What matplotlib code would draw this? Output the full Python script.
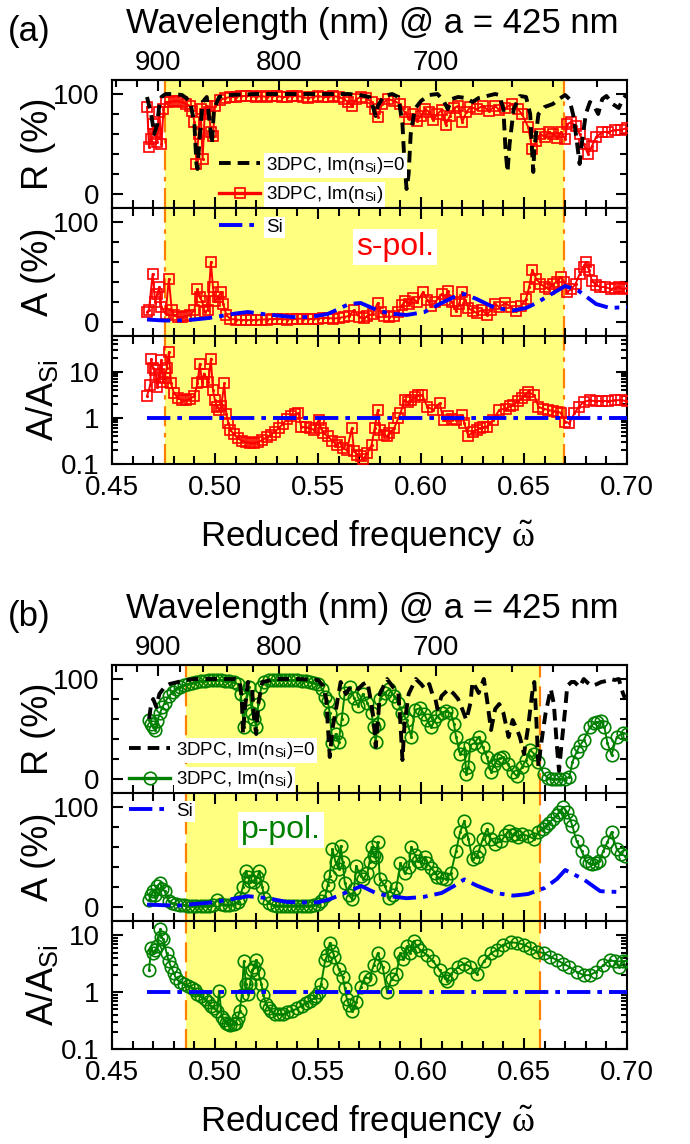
import matplotlib
matplotlib.use('Agg')
import matplotlib.pyplot as plt
from matplotlib.ticker import MultipleLocator, FixedLocator, NullFormatter, LogLocator
from matplotlib.lines import Line2D

plt.rcParams['font.family'] = ['Liberation Sans', 'DejaVu Sans']
plt.rcParams['mathtext.fontset'] = 'custom'
plt.rcParams['mathtext.rm'] = 'Liberation Sans'
plt.rcParams['mathtext.it'] = 'Liberation Serif'

# ---------------- data (reduced frequency, value) ----------------
# (a) s-pol
ra_black = [(0.467,97),(0.469,80),(0.4705,60),(0.472,70),(0.473,90),(0.474,97),(0.476,100),(0.480,100),
            (0.484,99),(0.486,96),(0.488,92),(0.490,70),(0.491,30),(0.4915,25),(0.4925,55),(0.494,92),
            (0.496,97),(0.4975,70),(0.4985,50),(0.4995,85),(0.502,97),(0.506,99),(0.520,100),(0.540,100),
            (0.560,100),(0.565,100),(0.570,99),(0.575,97),(0.577,85),(0.578,78),(0.579,88),(0.582,98),
            (0.586,100),(0.589,97),(0.591,70),(0.592,30),(0.593,5),(0.594,20),(0.595,60),(0.597,85),
            (0.600,93),(0.604,99),(0.608,100),(0.611,93),(0.613,85),(0.615,95),(0.618,97),(0.622,96),
            (0.625,92),(0.628,96),(0.632,98),(0.636,100),(0.638,99),(0.640,85),(0.641,45),(0.642,22),
            (0.643,50),(0.645,85),(0.648,98),(0.651,97),(0.653,80),(0.654,40),(0.6545,22),(0.655,45),
            (0.657,80),(0.660,87),(0.664,90),(0.667,95),(0.670,99),(0.672,95),(0.674,78),(0.6755,55),
            (0.677,30),(0.678,50),(0.680,80),(0.682,92),(0.684,88),(0.686,80),(0.688,95),(0.690,98),
            (0.693,90),(0.696,86),(0.698,95),(0.700,100)]

ra_red = [(0.467,87),(0.468,47),(0.469,55),(0.470,70),(0.471,60),(0.472,52),(0.473,82),(0.474,50),(0.475,85),
          (0.476,92),(0.478,92),(0.480,93),(0.482,93),(0.484,92),(0.486,90),(0.488,88),(0.489,83),(0.490,72),
          (0.491,30),(0.492,60),(0.493,85),(0.494,35),(0.495,80),(0.496,88),(0.497,82),(0.498,62),(0.499,58),
          (0.500,88),(0.5025,94),(0.505,96),(0.5075,97),(0.510,97),(0.5125,98),(0.515,98),(0.5175,98),
          (0.520,97),(0.5225,98),(0.525,97),(0.5275,98),(0.530,98),(0.5325,97),(0.535,97),(0.5375,98),
          (0.540,98),(0.5425,97),(0.545,96),(0.5475,97),(0.550,98),(0.5525,97),(0.555,97),(0.5575,98),
          (0.560,97),(0.5625,95),(0.5645,92),(0.5665,88),(0.5685,95),(0.571,97),(0.5735,96),(0.576,92),
          (0.5775,85),(0.579,77),(0.581,90),(0.584,95),(0.587,93),(0.590,90),(0.592,82),(0.594,75),
          (0.596,80),(0.598,73),(0.600,78),(0.602,85),(0.604,82),(0.606,74),(0.608,80),(0.610,84),
          (0.612,69),(0.614,78),(0.616,86),(0.618,88),(0.620,72),(0.622,82),(0.624,87),(0.627,85),
          (0.630,88),(0.633,83),(0.636,88),(0.638,84),(0.641,86),(0.644,90),(0.647,85),(0.649,80),
          (0.652,67),(0.654,45),(0.656,53),(0.658,60),(0.660,57),(0.662,62),(0.664,60),(0.666,56),
          (0.668,62),(0.670,55),(0.671,70),(0.673,72),(0.675,68),(0.677,60),(0.679,50),(0.681,40),
          (0.683,48),(0.685,57),(0.688,62),(0.691,62),(0.694,64),(0.697,64),(0.700,66)]

aa_red = [(0.467,10),(0.468,12.5),(0.4697,48),(0.471,20),(0.472,28),(0.473,35),(0.474,15),(0.476,8),
          (0.4776,43),(0.479,12),(0.480,7),(0.482,5),(0.484,5),(0.486,6),(0.488,7),(0.490,12),(0.4915,33),
          (0.4925,25),(0.4937,21),(0.495,10),(0.4965,12),(0.498,60),(0.499,35),(0.500,21),(0.5015,25),
          (0.503,30),(0.504,18),(0.5055,7),(0.5075,3),(0.510,2.5),(0.5125,2),(0.515,2),(0.5175,2),
          (0.520,2),(0.5225,2.5),(0.525,2.5),(0.5275,3),(0.530,3),(0.5325,3),(0.535,2.5),(0.5375,3),
          (0.540,3),(0.5425,3.5),(0.545,3),(0.5475,3),(0.550,3.5),(0.5525,4),(0.555,4),(0.5575,3.5),
          (0.560,4),(0.5625,5),(0.565,6),(0.5675,12),(0.570,5),(0.5725,4),(0.574,6),(0.5765,8),
          (0.579,19),(0.5805,10),(0.582,6),(0.5845,5),(0.587,6),(0.589,10),(0.591,17),(0.592,21),
          (0.594,18),(0.596,24),(0.598,20),(0.601,30),(0.603,22),(0.605,16),(0.607,20),(0.610,28),
          (0.6115,22),(0.613,31),(0.615,20),(0.617,11),(0.6185,18),(0.620,30),(0.6215,22),(0.623,14),
          (0.625,11),(0.627,9),(0.6295,12),(0.632,7.5),(0.634,12),(0.636,18),(0.638,15),(0.641,19),
          (0.6435,15),(0.646,11),(0.6485,16),(0.651,23),(0.6525,35),(0.654,52),(0.656,43),(0.658,38),
          (0.660,35),(0.662,33),(0.664,38),(0.666,40),(0.668,45),(0.6695,40),(0.671,30),(0.673,33),
          (0.675,38),(0.677,48),(0.679,55),(0.680,60),(0.6815,52),(0.683,41),(0.685,37),(0.687,35),
          (0.6895,35),(0.692,33),(0.694,34),(0.696,35),(0.698,33),(0.700,34)]

aa_si = [(0.467,2.5),(0.475,1.5),(0.482,1.4),(0.490,2.5),(0.497,4),(0.503,6),(0.510,8.5),(0.516,10),
         (0.525,7.5),(0.5375,5),(0.546,5),(0.5547,8),(0.560,13),(0.565,18),(0.5707,19),(0.578,12.5),
         (0.5846,8.5),(0.593,7),(0.6017,10),(0.610,19),(0.616,25),(0.621,28),(0.627,23),(0.636,14),
         (0.6446,11.5),(0.651,14),(0.656,19),(0.6617,26),(0.670,36),(0.6766,31),(0.685,18),(0.6917,14),
         (0.700,15)]

qa_red = [(0.467,3.0),(0.4686,5.2),(0.469,19),(0.470,12),(0.471,10.9),(0.472,4.7),(0.473,9),(0.4738,17.8),
          (0.4748,6),(0.4755,7.2),(0.4766,12),(0.4776,27),(0.4787,5.6),(0.480,3.5),(0.482,2.7),(0.484,2.4),
          (0.486,2.4),(0.488,2.6),(0.490,3.0),(0.4915,5.6),(0.4926,15),(0.4937,6),(0.4947,9.2),(0.4968,6.1),
          (0.498,19.4),(0.499,4),(0.500,2.4),(0.501,1.75),(0.502,1.5),(0.503,1.8),(0.5045,5.6),(0.5055,1.2),
          (0.5065,0.77),(0.5075,0.55),(0.509,0.45),(0.511,0.36),(0.513,0.32),(0.515,0.3),(0.517,0.29),
          (0.519,0.29),(0.521,0.3),(0.523,0.33),(0.525,0.38),(0.527,0.43),(0.529,0.5),(0.531,0.6),
          (0.533,0.75),(0.535,0.95),(0.537,1.1),(0.539,1.2),(0.5405,1.26),(0.5418,0.65),(0.544,0.62),
          (0.546,0.6),(0.548,0.55),(0.5503,0.9),(0.5515,0.6),(0.5525,0.47),(0.5547,0.4),(0.557,0.32),
          (0.559,0.26),(0.5605,0.3),(0.562,0.22),(0.564,0.2),(0.5664,0.6),(0.5675,0.19),(0.569,0.16),
          (0.5707,0.15),(0.572,0.13),(0.574,0.17),(0.576,0.26),(0.5775,0.6),(0.579,1.5),(0.580,0.55),
          (0.582,0.43),(0.5835,0.4),(0.5846,0.47),(0.587,0.6),(0.589,1.0),(0.590,1.26),(0.592,2.45),
          (0.5935,2.2),(0.595,2.45),(0.597,2.8),(0.5985,3.1),(0.6007,3.1),(0.603,1.75),(0.606,1.5),
          (0.609,2.07),(0.611,0.9),(0.613,1.1),(0.615,0.95),(0.617,0.9),(0.620,1.16),(0.621,0.77),
          (0.623,0.4),(0.625,0.5),(0.627,0.55),(0.6285,0.6),(0.630,0.62),(0.632,0.65),(0.635,0.9),
          (0.638,1.5),(0.6414,1.6),(0.643,1.8),(0.6446,1.9),(0.647,2.3),(0.649,2.65),(0.6505,3.2),
          (0.652,3.7),(0.655,3.1),(0.657,1.75),(0.659,1.6),(0.6617,1.5),(0.664,1.4),(0.666,1.37),
          (0.668,1.3),(0.670,0.83),(0.672,0.77),(0.6745,1.26),(0.6766,1.75),(0.679,2.25),(0.682,2.4),
          (0.685,2.3),(0.688,2.35),(0.691,2.3),(0.694,2.4),(0.697,2.45),(0.700,2.3)]

# (b) p-pol
rb_black = [(0.468,60),(0.469,75),(0.470,80),(0.4715,72),(0.473,85),(0.4755,92),(0.478,95),(0.482,97),
            (0.486,99),(0.490,100),(0.500,100),(0.510,100),(0.512,98),(0.513,80),(0.5136,45),(0.5145,70),
            (0.516,97),(0.518,90),(0.519,60),(0.520,45),(0.521,75),(0.523,97),(0.530,100),(0.540,100),
            (0.550,99),(0.5525,93),(0.554,80),(0.5557,22),(0.557,50),(0.559,73),(0.561,97),(0.5635,85),
            (0.566,93),(0.5695,90),(0.572,95),(0.574,97),(0.5755,80),(0.577,60),(0.578,32),(0.579,55),
            (0.580,85),(0.5835,100),(0.586,93),(0.589,86),(0.590,56),(0.591,19),(0.592,55),(0.594,85),
            (0.5975,100),(0.600,95),(0.602,90),(0.604,95),(0.6055,85),(0.607,80),(0.608,70),(0.610,83),
            (0.6135,90),(0.616,85),(0.618,80),(0.620,70),(0.622,59),(0.624,76),(0.625,97),(0.627,90),
            (0.628,86),(0.6305,100),(0.632,80),(0.634,49),(0.636,70),(0.638,75),(0.640,66),(0.6425,42),
            (0.6445,59),(0.6465,50),(0.648,42),(0.650,25),(0.652,52),(0.654,86),(0.655,97),(0.656,59),
            (0.657,12),(0.658,30),(0.659,45),(0.6605,66),(0.663,90),(0.6645,75),(0.666,32),(0.667,8),
            (0.668,30),(0.670,70),(0.671,93),(0.673,97),(0.6745,97),(0.677,92),(0.679,100),(0.681,96),
            (0.683,93),(0.6855,95),(0.6875,97),(0.690,98),(0.692,100),(0.694,99),(0.696,100),(0.698,86),
            (0.699,81)]

rb_green = [(0.468,59),(0.469,55),(0.470,52),(0.471,49),(0.472,58),(0.4733,66),(0.4745,72),(0.4755,76),
            (0.4776,83),(0.4795,87),(0.481,90),(0.483,92),(0.485,94),(0.487,95),(0.489,96),(0.491,97),
            (0.493,98),(0.495,98),(0.497,99),(0.499,99),(0.501,99),(0.503,99),(0.505,98),(0.507,98),
            (0.509,97),(0.511,95),(0.5125,85),(0.514,52),(0.515,80),(0.5165,92),(0.518,66),(0.519,60),
            (0.520,52),(0.521,75),(0.5225,92),(0.524,97),(0.526,99),(0.528,99),(0.530,99),(0.532,99),
            (0.534,99),(0.536,99),(0.538,99),(0.540,99),(0.542,98),(0.544,98),(0.546,97),(0.548,96),
            (0.550,95),(0.552,90),(0.5535,82),(0.5547,78),(0.5557,66),(0.557,36),(0.5585,45),(0.560,37),
            (0.5615,60),(0.563,86),(0.5655,92),(0.5675,81),(0.5695,73),(0.5718,85),(0.574,76),(0.576,66),
            (0.577,52),(0.578,37),(0.579,55),(0.580,80),(0.5825,86),(0.5846,90),(0.587,83),(0.589,76),
            (0.591,66),(0.593,59),(0.5953,42),(0.597,69),(0.5996,71),(0.6015,65),(0.603,59),(0.605,52),
            (0.6065,58),(0.608,63),(0.610,66),(0.612,68),(0.6145,66),(0.616,55),(0.617,42),(0.619,25),
            (0.621,31),(0.622,5),(0.623,12),(0.624,34),(0.626,36),(0.628,42),(0.630,32),(0.632,22),
            (0.634,7),(0.6355,14),(0.637,19),(0.6385,21),(0.640,22),(0.642,15),(0.6445,7),(0.6465,3),
            (0.649,12),(0.651,19),(0.653,29),(0.655,25),(0.657,17),(0.6595,5),(0.6617,1),(0.6637,0.5),
            (0.6657,0),(0.6677,0),(0.6697,0.5),(0.672,2),(0.6735,17),(0.6755,27),(0.677,33),(0.679,39),
            (0.682,52),(0.684,56),(0.6855,57),(0.6875,58),(0.689,52),(0.6905,36),(0.6925,24),(0.695,42),
            (0.698,46),(0.700,45)]

ab_green = [(0.468,7),(0.469,12),(0.470,16),(0.471,12),(0.472,21),(0.4733,24),(0.4745,18),(0.4755,16),
            (0.4776,6),(0.479,4),(0.481,3),(0.483,2),(0.485,2),(0.487,1.5),(0.489,1.5),(0.491,1.5),
            (0.493,1.5),(0.495,1.5),(0.497,1.5),(0.499,2),(0.5011,7),(0.503,3),(0.505,2.5),(0.507,2.5),
            (0.509,3),(0.511,5),(0.512,9),(0.5135,20),(0.515,36),(0.516,30),(0.517,26),(0.519,25),
            (0.5205,30),(0.5215,36),(0.523,20),(0.524,9),(0.526,4),(0.528,2),(0.530,1.5),(0.532,1.5),
            (0.534,1.5),(0.536,1.5),(0.538,1.5),(0.540,1.5),(0.542,1.5),(0.544,1.5),(0.546,1.5),(0.548,2),
            (0.550,3),(0.5515,6),(0.5535,11),(0.5547,22),(0.5557,31),(0.557,58),(0.5585,45),(0.560,38),
            (0.561,61),(0.562,45),(0.563,24),(0.565,12),(0.5665,8),(0.5675,18),(0.5685,41),(0.5707,31),
            (0.572,28),(0.574,34),(0.575,45),(0.576,60),(0.577,52),(0.578,50),(0.579,65),(0.580,28),
            (0.5825,21),(0.5846,9),(0.5865,12),(0.588,19),(0.590,44),(0.592,34),(0.594,40),(0.5953,60),
            (0.597,52),(0.5985,46),(0.600,44),(0.6017,50),(0.603,44),(0.605,39),(0.607,34),(0.608,30),
            (0.610,29),(0.612,28),(0.6145,34),(0.617,56),(0.619,75),(0.621,86),(0.623,68),(0.625,48),
            (0.627,50),(0.628,56),(0.630,68),(0.632,78),(0.634,68),(0.636,63),(0.639,66),(0.641,72),
            (0.6425,76),(0.644,72),(0.6455,73),(0.647,70),(0.649,73),(0.652,71),(0.655,68),(0.657,75),
            (0.659,78),(0.6605,81),(0.662,84),(0.664,88),(0.666,92),(0.667,95),(0.669,100),(0.671,95),
            (0.6725,87),(0.6735,81),(0.6755,66),(0.678,56),(0.680,46),(0.6815,44),(0.683,43),(0.685,44),
            (0.6865,46),(0.6885,56),(0.6905,65),(0.6925,75),(0.695,58),(0.697,53),(0.699,51)]

ab_si = [(0.467,2.4),(0.475,1.8),(0.482,1.4),(0.490,3),(0.499,4.7),(0.507,7.5),(0.516,10.8),(0.525,9),
         (0.535,5),(0.545,4.5),(0.550,4.7),(0.556,8),(0.563,14),(0.571,21),(0.578,14),(0.5846,10.8),
         (0.593,8.8),(0.601,10),(0.610,14),(0.616,21),(0.621,27.6),(0.627,21.5),(0.636,14),(0.645,11.4),
         (0.652,13),(0.660,19),(0.666,28),(0.670,37),(0.679,27.6),(0.687,15.8),(0.698,14.8)]

qb_green = [(0.468,2.45),(0.469,6),(0.470,4.9),(0.471,5.5),(0.472,6.4),(0.4733,12.8),(0.474,9.5),(0.475,8.5),
            (0.4765,4.9),(0.4775,3.5),(0.4787,2.8),(0.480,2.2),(0.481,1.75),(0.483,1.5),(0.485,1.4),
            (0.487,1.3),(0.489,1.2),(0.4905,1.1),(0.4915,0.93),(0.493,0.87),(0.495,0.76),(0.4965,0.68),
            (0.498,0.58),(0.4995,0.52),(0.501,0.47),(0.502,1.05),(0.5033,0.36),(0.5045,0.32),(0.5055,0.29),
            (0.5065,0.28),(0.5075,0.27),(0.509,0.28),(0.510,0.29),(0.511,0.35),(0.512,0.47),(0.513,0.9),
            (0.514,3.5),(0.515,1.4),(0.516,0.95),(0.517,1.4),(0.518,2.45),(0.519,2.8),(0.520,3.7),
            (0.521,2.2),(0.5225,1.4),(0.5235,0.9),(0.5247,0.62),(0.526,0.52),(0.527,0.47),(0.529,0.42),
            (0.531,0.41),(0.533,0.41),(0.535,0.44),(0.5375,0.47),(0.540,0.52),(0.542,0.58),(0.544,0.64),
            (0.546,0.71),(0.548,0.78),(0.549,0.87),(0.5505,1.0),(0.5515,1.4),(0.5535,3.7),(0.5545,4.5),
            (0.5557,7.4),(0.557,5.4),(0.558,4.2),(0.560,2.6),(0.562,1.86),(0.563,1.2),(0.564,0.76),
            (0.565,0.6),(0.5664,0.47),(0.5685,0.66),(0.5707,1.23),(0.5728,1.86),(0.575,1.74),(0.577,3.0),
            (0.579,4.9),(0.5814,2.8),(0.5835,1.0),(0.5857,1.74),(0.588,2.1),(0.590,4.9),(0.5915,3.8),
            (0.593,6.4),(0.5945,5),(0.5964,7.9),(0.598,6.5),(0.5996,5.6),(0.603,4.5),(0.606,3.5),
            (0.609,2.45),(0.6115,1.8),(0.6125,1.6),(0.6145,2.1),(0.618,2.8),(0.621,3.2),(0.624,2.8),
            (0.627,2.1),(0.6305,3.5),(0.634,4.9),(0.637,5.6),(0.640,6.9),(0.6435,7.6),(0.6466,7.4),
            (0.650,6.9),(0.653,6.0),(0.6563,5.2),(0.6595,4.9),(0.6627,4.25),(0.666,3.7),(0.669,3.2),
            (0.672,2.8),(0.6755,2.3),(0.679,2.0),(0.682,2.0),(0.685,2.3),(0.6885,3.0),(0.6917,3.7),
            (0.694,3.5),(0.696,2.8),(0.698,3.5),(0.700,3.6)]

si_ratio = [(0.467,1.0),(0.700,1.0)]

band_a = (0.4755, 0.6695)
band_b = (0.486, 0.6577)
wl_major = [900, 800, 700]
wl_minor = [940, 920, 880, 860, 840, 820, 780, 760, 740, 720, 680, 660, 640, 620]
lattice = 425.0

# ---------------- figure ----------------
W, H = 690, 1144
fig = plt.figure(figsize=(W/100, H/100), dpi=100)
LEFT, WIDTH, PANEL = 112, 515, 128

YELLOW = '#FFFF80'
ORANGE = '#FF8000'
BLUE = '#0000FF'


def fx(px):
    return px / W


def fy(py):
    return 1 - py / H


def new_axes(top_px):
    return fig.add_axes([fx(LEFT), fy(top_px + PANEL), WIDTH / W, PANEL / H])


def style(ax, top_panel=False, bottom_panel=False):
    ax.set_xlim(0.45, 0.70)
    ax.xaxis.set_major_locator(MultipleLocator(0.05))
    ax.xaxis.set_minor_locator(MultipleLocator(0.01))
    ax.xaxis.set_major_formatter(plt.FuncFormatter(lambda v, p: '%.2f' % v))
    ax.tick_params(which='both', direction='in', top=not top_panel, right=True,
                   width=1.5, labelsize=20)
    ax.tick_params(which='major', length=8, pad=9)
    ax.tick_params(which='minor', length=6)
    ax.tick_params(axis='x', pad=8, labelbottom=bottom_panel)
    for s in ax.spines.values():
        s.set_linewidth(1.5)


def linear_y(ax):
    ax.set_ylim(-14, 114)
    ax.set_yticks([0, 100])
    ax.yaxis.set_minor_locator(FixedLocator([20, 40, 60, 80]))
    ax.tick_params(axis='y', which='minor', length=5)


def log_y(ax, ymax):
    ax.set_yscale('log')
    ax.set_ylim(0.1, ymax)
    ax.set_yticks([0.1, 1, 10])
    ax.set_yticklabels(['0.1', '1', '10'])
    ax.yaxis.set_minor_locator(LogLocator(base=10, subs=range(2, 10)))
    ax.yaxis.set_minor_formatter(NullFormatter())
    ax.tick_params(axis='y', which='minor', length=4)


def band(ax, lims, ls):
    ax.axvspan(lims[0], lims[1], color=YELLOW, lw=0, zorder=0)
    for v in lims:
        ax.axvline(v, color=ORANGE, lw=1.6, ls=ls, zorder=1)


def plot_pts(ax, pts, **kw):
    w, v = zip(*pts)
    ax.plot(w, v, **kw)


def top_wavelength(ax):
    sec = ax.secondary_xaxis('top', functions=(lambda x: lattice / x, lambda x: lattice / x))
    sec.set_xticks(wl_major)
    sec.set_xticklabels([str(v) for v in wl_major])
    sec.xaxis.set_minor_locator(FixedLocator(wl_minor))
    sec.tick_params(which='both', direction='in', width=1.5, labelsize=20, pad=3)
    sec.tick_params(which='major', length=8)
    sec.tick_params(which='minor', length=5)
    sec.spines['top'].set_linewidth(1.5)


def white_legend(handles, labels, x_px, y_px):
    leg = fig.legend(handles, labels, loc='center left',
                     bbox_to_anchor=(fx(x_px), fy(y_px)), frameon=False, fontsize=13.5,
                     handlelength=2.2, handletextpad=0.3, labelspacing=0.45,
                     borderpad=0, borderaxespad=0, numpoints=1)
    for t in leg.get_texts():
        t.set_bbox(dict(facecolor='white', edgecolor='none', pad=1.5))
    return leg


groups = [
    dict(top=80, tag='(a)', R_k=ra_black, R_c=ra_red, A_c=aa_red, A_si=aa_si, Q_c=qa_red,
         color='red', marker='s', ms=7.5, band=band_a, band_ls=(0, (9, 3, 2, 3)), qmax=60,
         pol='s-pol.', pol_xy=(395, 247), leg_xy=(219, 180), si_xy=(219, 227)),
    dict(top=665, tag='(b)', R_k=rb_black, R_c=rb_green, A_c=ab_green, A_si=ab_si, Q_c=qb_green,
         color='green', marker='o', ms=9, band=band_b, band_ls=(0, (9, 4)), qmax=18,
         pol='p-pol.', pol_xy=(281, 830), leg_xy=(129, 765), si_xy=(129, 811)),
]

for g in groups:
    t0 = g['top']
    ax_r = new_axes(t0)
    ax_a = new_axes(t0 + PANEL)
    ax_q = new_axes(t0 + 2 * PANEL)
    c = g['color']
    mk = dict(color=c, lw=1.4, marker=g['marker'], ms=g['ms'], mfc='none', mec=c, mew=1.2, zorder=3)
    dot = dict(ls='none', marker='.', ms=2.5, color=c, zorder=4)
    k_style = dict(color='black', lw=2.8, ls=(0, (3, 1.8)), zorder=4)
    si_style = dict(color=BLUE, lw=2.8, ls=(0, (6, 1.8, 1.2, 1.8)), zorder=4)

    # R panel
    band(ax_r, g['band'], g['band_ls'])
    plot_pts(ax_r, g['R_c'], **mk)
    plot_pts(ax_r, g['R_c'], **dot)
    plot_pts(ax_r, g['R_k'], **k_style)
    style(ax_r, top_panel=True)
    linear_y(ax_r)
    top_wavelength(ax_r)

    # A panel
    band(ax_a, g['band'], g['band_ls'])
    plot_pts(ax_a, g['A_c'], **mk)
    plot_pts(ax_a, g['A_c'], **dot)
    plot_pts(ax_a, g['A_si'], **si_style)
    style(ax_a)
    linear_y(ax_a)

    # ratio panel
    band(ax_q, g['band'], g['band_ls'])
    plot_pts(ax_q, g['Q_c'], **mk)
    plot_pts(ax_q, g['Q_c'], **dot)
    plot_pts(ax_q, si_ratio, **si_style)
    style(ax_q, bottom_panel=True)
    log_y(ax_q, g['qmax'])

    # legends
    h_k = Line2D([], [], **k_style)
    h_c = Line2D([], [], color=c, lw=2.4, marker=g['marker'], ms=g['ms'], mfc='none', mec=c, mew=1.2)
    white_legend([h_k, h_c], ['3DPC, Im(n$_{\\mathrm{Si}}$)=0', '3DPC, Im(n$_{\\mathrm{Si}}$)'],
                 *g['leg_xy'])
    white_legend([Line2D([], [], **si_style)], ['Si'], *g['si_xy'])

    fig.text(fx(g['pol_xy'][0]), fy(g['pol_xy'][1]), g['pol'], color=c, fontsize=23,
             ha='center', va='center', zorder=10,
             bbox=dict(facecolor='white', edgecolor='none', pad=2))

    # texts
    fig.text(fx(8), fy(t0 - 39), g['tag'], fontsize=25, ha='left', va='baseline')
    fig.text(fx(372), fy(t0 - 47), 'Wavelength (nm) @ a = 425 nm', fontsize=25,
             ha='center', va='baseline')
    fig.text(fx(38), fy(t0 + PANEL / 2), 'R (%)', fontsize=26, rotation=90,
             ha='center', va='center')
    fig.text(fx(38), fy(t0 + 1.5 * PANEL), 'A (%)', fontsize=26, rotation=90,
             ha='center', va='center')
    fig.text(fx(44), fy(t0 + 2.5 * PANEL), 'A/A$_{\\mathrm{Si}}$', fontsize=26, rotation=90,
             ha='center', va='center')
    fig.text(fx(367), fy(t0 + 3 * PANEL + 83), 'Reduced frequency $\\tilde{\\omega}$', fontsize=25,
             ha='center', va='baseline')

fig.savefig('out.png', dpi=100)
